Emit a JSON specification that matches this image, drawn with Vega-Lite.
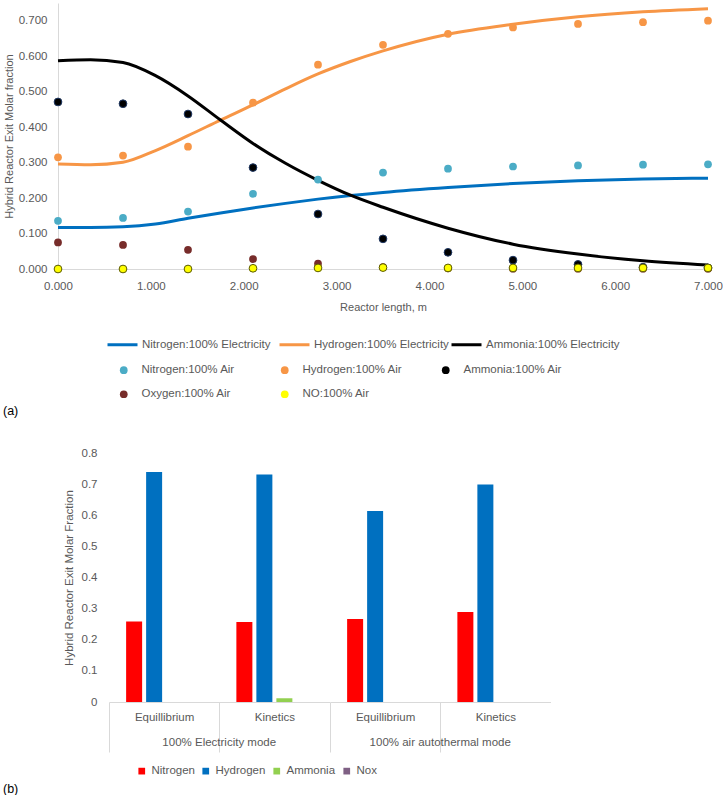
{
  "$schema": "https://vega.github.io/schema/vega-lite/v6.json",
  "padding": {"left": 3, "top": 2, "right": 0, "bottom": 0},
  "background": "white",
  "config": {
    "view": {"stroke": null},
    "font": "Liberation Sans",
    "axis": {
      "grid": false, "ticks": false, "domainColor": "#D9D9D9", "domainWidth": 1, "labelOverlap": false,
      "labelColor": "#595959", "labelFont": "Liberation Sans", "labelFontSize": 11.5,
      "titleColor": "#595959", "titleFont": "Liberation Sans", "titleFontSize": 11, "titleFontWeight": "normal"
    },
    "legend": {"labelColor": "#595959", "labelFont": "Liberation Sans", "labelFontSize": 11.5, "title": null},
    "title": {"font": "Liberation Sans", "fontWeight": "normal", "fontSize": 12.5, "color": "#000000"}
  },
  "resolve": {"scale": {"color": "independent", "fill": "independent"}, "legend": {"color": "independent", "fill": "independent"}},
  "datasets": {
    "lines": [
      {"x": 0, "y": 0.117, "series": "Nitrogen:100% Electricity"},
      {"x": 0.35, "y": 0.117, "series": "Nitrogen:100% Electricity"},
      {"x": 0.7, "y": 0.119, "series": "Nitrogen:100% Electricity"},
      {"x": 1.05, "y": 0.127, "series": "Nitrogen:100% Electricity"},
      {"x": 1.4, "y": 0.143, "series": "Nitrogen:100% Electricity"},
      {"x": 1.75, "y": 0.158, "series": "Nitrogen:100% Electricity"},
      {"x": 2.1, "y": 0.172, "series": "Nitrogen:100% Electricity"},
      {"x": 2.45, "y": 0.185, "series": "Nitrogen:100% Electricity"},
      {"x": 2.8, "y": 0.197, "series": "Nitrogen:100% Electricity"},
      {"x": 3.5, "y": 0.216, "series": "Nitrogen:100% Electricity"},
      {"x": 4.2, "y": 0.23, "series": "Nitrogen:100% Electricity"},
      {"x": 4.9, "y": 0.241, "series": "Nitrogen:100% Electricity"},
      {"x": 5.6, "y": 0.249, "series": "Nitrogen:100% Electricity"},
      {"x": 6.3, "y": 0.254, "series": "Nitrogen:100% Electricity"},
      {"x": 7.0, "y": 0.256, "series": "Nitrogen:100% Electricity"},
      {"x": 0, "y": 0.296, "series": "Hydrogen:100% Electricity"},
      {"x": 0.35, "y": 0.294, "series": "Hydrogen:100% Electricity"},
      {"x": 0.7, "y": 0.301, "series": "Hydrogen:100% Electricity"},
      {"x": 1.05, "y": 0.334, "series": "Hydrogen:100% Electricity"},
      {"x": 1.4, "y": 0.376, "series": "Hydrogen:100% Electricity"},
      {"x": 1.75, "y": 0.42, "series": "Hydrogen:100% Electricity"},
      {"x": 2.1, "y": 0.463, "series": "Hydrogen:100% Electricity"},
      {"x": 2.45, "y": 0.508, "series": "Hydrogen:100% Electricity"},
      {"x": 2.8, "y": 0.55, "series": "Hydrogen:100% Electricity"},
      {"x": 3.15, "y": 0.585, "series": "Hydrogen:100% Electricity"},
      {"x": 3.5, "y": 0.615, "series": "Hydrogen:100% Electricity"},
      {"x": 4.2, "y": 0.662, "series": "Hydrogen:100% Electricity"},
      {"x": 4.9, "y": 0.69, "series": "Hydrogen:100% Electricity"},
      {"x": 5.6, "y": 0.711, "series": "Hydrogen:100% Electricity"},
      {"x": 6.3, "y": 0.725, "series": "Hydrogen:100% Electricity"},
      {"x": 7.0, "y": 0.734, "series": "Hydrogen:100% Electricity"},
      {"x": 0, "y": 0.587, "series": "Ammonia:100% Electricity"},
      {"x": 0.35, "y": 0.59, "series": "Ammonia:100% Electricity"},
      {"x": 0.7, "y": 0.582, "series": "Ammonia:100% Electricity"},
      {"x": 1.05, "y": 0.545, "series": "Ammonia:100% Electricity"},
      {"x": 1.4, "y": 0.488, "series": "Ammonia:100% Electricity"},
      {"x": 1.75, "y": 0.42, "series": "Ammonia:100% Electricity"},
      {"x": 2.1, "y": 0.354, "series": "Ammonia:100% Electricity"},
      {"x": 2.45, "y": 0.298, "series": "Ammonia:100% Electricity"},
      {"x": 2.8, "y": 0.25, "series": "Ammonia:100% Electricity"},
      {"x": 3.15, "y": 0.208, "series": "Ammonia:100% Electricity"},
      {"x": 3.5, "y": 0.174, "series": "Ammonia:100% Electricity"},
      {"x": 4.2, "y": 0.115, "series": "Ammonia:100% Electricity"},
      {"x": 4.9, "y": 0.07, "series": "Ammonia:100% Electricity"},
      {"x": 5.6, "y": 0.042, "series": "Ammonia:100% Electricity"},
      {"x": 6.3, "y": 0.023, "series": "Ammonia:100% Electricity"},
      {"x": 7.0, "y": 0.011, "series": "Ammonia:100% Electricity"}
    ],
    "points": [
      {"x": 0, "y": 0.136, "series": "Nitrogen:100% Air"},
      {"x": 0.7, "y": 0.144, "series": "Nitrogen:100% Air"},
      {"x": 1.4, "y": 0.162, "series": "Nitrogen:100% Air"},
      {"x": 2.1, "y": 0.212, "series": "Nitrogen:100% Air"},
      {"x": 2.8, "y": 0.252, "series": "Nitrogen:100% Air"},
      {"x": 3.5, "y": 0.272, "series": "Nitrogen:100% Air"},
      {"x": 4.2, "y": 0.283, "series": "Nitrogen:100% Air"},
      {"x": 4.9, "y": 0.289, "series": "Nitrogen:100% Air"},
      {"x": 5.6, "y": 0.292, "series": "Nitrogen:100% Air"},
      {"x": 6.3, "y": 0.294, "series": "Nitrogen:100% Air"},
      {"x": 7.0, "y": 0.295, "series": "Nitrogen:100% Air"},
      {"x": 0, "y": 0.315, "series": "Hydrogen:100% Air"},
      {"x": 0.7, "y": 0.32, "series": "Hydrogen:100% Air"},
      {"x": 1.4, "y": 0.345, "series": "Hydrogen:100% Air"},
      {"x": 2.1, "y": 0.469, "series": "Hydrogen:100% Air"},
      {"x": 2.8, "y": 0.576, "series": "Hydrogen:100% Air"},
      {"x": 3.5, "y": 0.632, "series": "Hydrogen:100% Air"},
      {"x": 4.2, "y": 0.663, "series": "Hydrogen:100% Air"},
      {"x": 4.9, "y": 0.681, "series": "Hydrogen:100% Air"},
      {"x": 5.6, "y": 0.691, "series": "Hydrogen:100% Air"},
      {"x": 6.3, "y": 0.696, "series": "Hydrogen:100% Air"},
      {"x": 7.0, "y": 0.7, "series": "Hydrogen:100% Air"},
      {"x": 0, "y": 0.471, "series": "Ammonia:100% Air"},
      {"x": 0.7, "y": 0.466, "series": "Ammonia:100% Air"},
      {"x": 1.4, "y": 0.437, "series": "Ammonia:100% Air"},
      {"x": 2.1, "y": 0.286, "series": "Ammonia:100% Air"},
      {"x": 2.8, "y": 0.155, "series": "Ammonia:100% Air"},
      {"x": 3.5, "y": 0.085, "series": "Ammonia:100% Air"},
      {"x": 4.2, "y": 0.047, "series": "Ammonia:100% Air"},
      {"x": 4.9, "y": 0.025, "series": "Ammonia:100% Air"},
      {"x": 5.6, "y": 0.013, "series": "Ammonia:100% Air"},
      {"x": 6.3, "y": 0.005, "series": "Ammonia:100% Air"},
      {"x": 7.0, "y": 0.003, "series": "Ammonia:100% Air"},
      {"x": 0, "y": 0.075, "series": "Oxygen:100% Air"},
      {"x": 0.7, "y": 0.068, "series": "Oxygen:100% Air"},
      {"x": 1.4, "y": 0.054, "series": "Oxygen:100% Air"},
      {"x": 2.1, "y": 0.028, "series": "Oxygen:100% Air"},
      {"x": 2.8, "y": 0.015, "series": "Oxygen:100% Air"},
      {"x": 3.5, "y": 0.005, "series": "Oxygen:100% Air"},
      {"x": 4.2, "y": 0.002, "series": "Oxygen:100% Air"},
      {"x": 4.9, "y": 0.001, "series": "Oxygen:100% Air"},
      {"x": 5.6, "y": 0.001, "series": "Oxygen:100% Air"},
      {"x": 6.3, "y": 0.001, "series": "Oxygen:100% Air"},
      {"x": 7.0, "y": 0.001, "series": "Oxygen:100% Air"},
      {"x": 0, "y": 0.0, "series": "NO:100% Air"},
      {"x": 0.7, "y": 0.0, "series": "NO:100% Air"},
      {"x": 1.4, "y": 0.0, "series": "NO:100% Air"},
      {"x": 2.1, "y": 0.002, "series": "NO:100% Air"},
      {"x": 2.8, "y": 0.003, "series": "NO:100% Air"},
      {"x": 3.5, "y": 0.004, "series": "NO:100% Air"},
      {"x": 4.2, "y": 0.003, "series": "NO:100% Air"},
      {"x": 4.9, "y": 0.003, "series": "NO:100% Air"},
      {"x": 5.6, "y": 0.003, "series": "NO:100% Air"},
      {"x": 6.3, "y": 0.003, "series": "NO:100% Air"},
      {"x": 7.0, "y": 0.003, "series": "NO:100% Air"}
    ],
    "bars": [
      {"mode": "100% Electricity mode", "method": "Equillibrium", "species": "Nitrogen", "value": 0.259},
      {"mode": "100% Electricity mode", "method": "Equillibrium", "species": "Hydrogen", "value": 0.739},
      {"mode": "100% Electricity mode", "method": "Equillibrium", "species": "Ammonia", "value": 0.0},
      {"mode": "100% Electricity mode", "method": "Equillibrium", "species": "Nox", "value": 0.0},
      {"mode": "100% Electricity mode", "method": "Kinetics", "species": "Nitrogen", "value": 0.257},
      {"mode": "100% Electricity mode", "method": "Kinetics", "species": "Hydrogen", "value": 0.731},
      {"mode": "100% Electricity mode", "method": "Kinetics", "species": "Ammonia", "value": 0.012},
      {"mode": "100% Electricity mode", "method": "Kinetics", "species": "Nox", "value": 0.0},
      {"mode": "100% air autothermal mode", "method": "Equillibrium", "species": "Nitrogen", "value": 0.267},
      {"mode": "100% air autothermal mode", "method": "Equillibrium", "species": "Hydrogen", "value": 0.614},
      {"mode": "100% air autothermal mode", "method": "Equillibrium", "species": "Ammonia", "value": 0.0},
      {"mode": "100% air autothermal mode", "method": "Equillibrium", "species": "Nox", "value": 0.0},
      {"mode": "100% air autothermal mode", "method": "Kinetics", "species": "Nitrogen", "value": 0.289},
      {"mode": "100% air autothermal mode", "method": "Kinetics", "species": "Hydrogen", "value": 0.699},
      {"mode": "100% air autothermal mode", "method": "Kinetics", "species": "Ammonia", "value": 0.0},
      {"mode": "100% air autothermal mode", "method": "Kinetics", "species": "Nox", "value": 0.0}
    ]
  },
  "spacing": 30,
  "vconcat": [
    {
      "width": 650,
      "height": 266,
      "title": {"text": "(a)", "orient": "bottom", "anchor": "start", "frame": "group", "dx": -55, "offset": 4.5},
      "layer": [
        {
          "data": {"name": "lines"},
          "mark": {"type": "line", "interpolate": "monotone", "strokeWidth": 3},
          "encoding": {
            "x": {"field": "x", "type": "quantitative", "scale": {"domain": [0, 7], "nice": false},
              "axis": {"title": "Reactor length, m", "values": [0, 1, 2, 3, 4, 5, 6, 7], "format": ".3f", "labelFlush": false, "labelOverlap": false, "labelPadding": 11, "titlePadding": 10}},
            "y": {"field": "y", "type": "quantitative", "scale": {"domain": [0, 0.75], "nice": false},
              "axis": {"title": "Hybrid Reactor Exit Molar fraction", "values": [0, 0.1, 0.2, 0.3, 0.4, 0.5, 0.6, 0.7], "format": ".3f", "labelOverlap": false, "labelPadding": 11, "titlePadding": 4}},
            "color": {"field": "series", "type": "nominal",
              "scale": {
                "domain": ["Nitrogen:100% Electricity", "Hydrogen:100% Electricity", "Ammonia:100% Electricity"],
                "range": ["#0070C0", "#F79646", "#000000"]
              },
              "legend": {
                "orient": "none", "legendX": 48, "legendY": 325, "direction": "horizontal", "columns": 3, "gridAlign": "all",
                "symbolType": "stroke", "symbolSize": 900, "symbolStrokeWidth": 3, "columnPadding": -4, "labelOffset": 3
              }
            }
          }
        },
        {
          "data": {"name": "points"},
          "mark": {"type": "point", "filled": true, "size": 60, "opacity": 1},
          "encoding": {
            "x": {"field": "x", "type": "quantitative"},
            "y": {"field": "y", "type": "quantitative", "axis": {"title": "Hybrid Reactor Exit Molar fraction", "values": [0, 0.1, 0.2, 0.3, 0.4, 0.5, 0.6, 0.7], "format": ".3f", "labelOverlap": false, "labelPadding": 11, "titlePadding": 4}},
            "fill": {"field": "series", "type": "nominal",
              "scale": {
                "domain": ["Nitrogen:100% Air", "Hydrogen:100% Air", "Ammonia:100% Air", "Oxygen:100% Air", "NO:100% Air"],
                "range": ["#4BACC6", "#F79646", "#000000", "#772C2A", "#FFFF00"]
              },
              "legend": {
                "orient": "none", "legendX": 60, "legendY": 361, "direction": "horizontal", "columns": 3, "gridAlign": "all",
                "symbolType": "circle", "symbolSize": 60, "symbolStrokeWidth": 0, "symbolOpacity": 1, "labelOffset": 12, "columnPadding": 37, "rowPadding": 11.5
              }
            },
            "stroke": {"condition": {"test": "datum.series === 'NO:100% Air'", "value": "#5a5a00"}, "value": "#1F3864"},
            "strokeWidth": {"condition": {"test": "datum.series === 'NO:100% Air' || datum.series === 'Ammonia:100% Air'", "value": 1}, "value": 0}
          }
        }
      ]
    },
    {
      "title": {"text": "(b)", "orient": "bottom", "anchor": "start", "frame": "group", "dx": -55, "offset": 6},
      "spacing": 0,
      "hconcat": [
        {
          "width": 4,
          "height": 249,
          "data": {"values": [{"v": 0}]},
          "mark": {"type": "point", "opacity": 0},
          "encoding": {}
        },
        {
          "data": {"name": "bars"},
          "facet": {
            "column": {"field": "mode", "type": "nominal", "sort": ["100% Electricity mode", "100% air autothermal mode"],
              "header": {"title": null, "labelOrient": "bottom", "labelPadding": -15.5, "labelFont": "Liberation Sans", "labelFontSize": 11.5, "labelColor": "#595959"}}
          },
          "spacing": 0,
          "spec": {
            "width": 220.5,
            "height": 249,
            "mark": {"type": "bar"},
            "encoding": {
              "x": {"field": "method", "type": "nominal", "sort": ["Equillibrium", "Kinetics"],
                "scale": {"paddingInner": 0, "paddingOuter": 0},
                "axis": {"title": null, "labelAngle": 0, "tickBand": "extent", "ticks": true, "tickSize": 50, "tickColor": "#D9D9D9",
                  "tickOpacity": {"condition": {"test": "datum.value === 'Kinetics'", "value": 0}, "value": 1},
                  "labelPadding": -40.5}},
              "xOffset": {"field": "species", "type": "nominal", "sort": ["Nitrogen", "Hydrogen", "Ammonia", "Nox"],
                "scale": {"paddingInner": 0.2, "paddingOuter": 0.856}},
              "y": {"field": "value", "type": "quantitative", "scale": {"domain": [0, 0.8], "nice": false},
                "axis": {"title": "Hybrid Reactor Exit Molar Fraction", "values": [0, 0.1, 0.2, 0.3, 0.4, 0.5, 0.6, 0.7, 0.8], "format": ".1~f", "domain": false, "labelPadding": 12, "titlePadding": 7, "titleFontSize": 11.5}},
              "color": {"field": "species", "type": "nominal", "sort": ["Nitrogen", "Hydrogen", "Ammonia", "Nox"],
                "scale": {"domain": ["Nitrogen", "Hydrogen", "Ammonia", "Nox"], "range": ["#FF0000", "#0070C0", "#92D050", "#7F6084"]},
                "legend": {"orient": "none", "direction": "horizontal", "legendX": 78, "legendY": 312, "symbolType": "square", "symbolSize": 45, "labelOffset": 4, "columnPadding": 5, "labelFontSize": 11.5}}
            }
          }
        }
      ]
    }
  ]
}
